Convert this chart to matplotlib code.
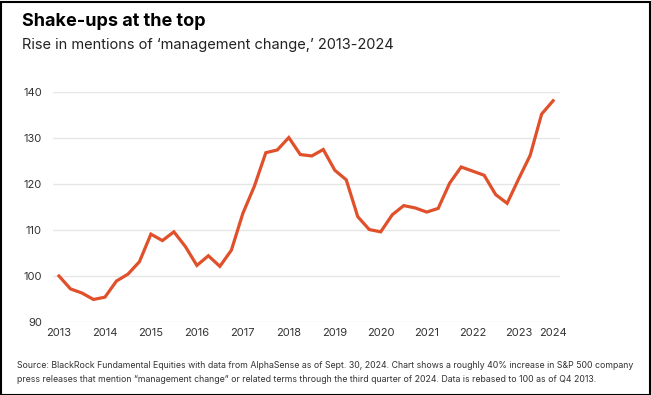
import numpy as np
import matplotlib
matplotlib.use('Agg')
import matplotlib.pyplot as plt
from matplotlib.patches import Rectangle

# quarterly index, Q4 2013 = 100
values = [100.0, 97.2, 96.3, 94.9, 95.4, 98.9, 100.4, 103.1, 109.1, 107.7,
          109.6, 106.4, 102.3, 104.4, 102.1, 105.6, 113.6, 119.5, 126.8, 127.4,
          130.1, 126.4, 126.1, 127.5, 123.0, 120.9, 112.9, 110.1, 109.6, 113.3,
          115.3, 114.8, 113.9, 114.7, 120.2, 123.7, 122.8, 121.9, 117.7, 115.8,
          121.1, 126.2, 135.2, 138.1]
year_labels = ['2013', '2014', '2015', '2016', '2017', '2018', '2019',
               '2020', '2021', '2022', '2023', '2024']
year_pos = [0, 4, 8, 12, 16, 20, 24, 28, 32, 36, 40, 43]
y_ticks = [90, 100, 110, 120, 130, 140]

plt.rcParams['font.family'] = ['Inter', 'DejaVu Sans']

W, H = 651, 395
fig = plt.figure(figsize=(W / 100, H / 100), dpi=100)
fig.patch.set_facecolor('white')

ax = fig.add_axes([53 / W, 1 - 322 / H, (560 - 53) / W, (322 - 92) / H])
x = np.arange(len(values))
ax.plot(x, values, color='#E0502A', lw=2.3, clip_on=False, solid_joinstyle='miter')

ax.set_ylim(90, 140)
ax.set_xlim(-0.52, 43.6)
ax.set_yticks(y_ticks)
ax.set_xticks(year_pos)
ax.set_xticklabels(year_labels)
ax.grid(axis='y', color='#e6e6e6', lw=1)
ax.set_axisbelow(True)
for s in ax.spines.values():
    s.set_visible(False)
ax.tick_params(length=0, labelsize=8, colors='#333333')
ax.tick_params(axis='y', pad=8)
ax.tick_params(axis='x', pad=4)

fig.text(22 / W, 1 - 22 / H, 'Shake-ups at the top', fontsize=13, fontweight='bold',
         va='center', ha='left', color='black')
fig.text(22 / W, 1 - 45 / H, 'Rise in mentions of \u2018management change,\u2019 2013-2024',
         fontsize=10.5, va='center', ha='left', color='#222222')
fig.text(17 / W, 1 - 365 / H,
         'Source: BlackRock Fundamental Equities with data from AlphaSense as of Sept. 30, 2024. '
         'Chart shows a roughly 40% increase in S&P 500 company',
         fontsize=6.3, va='center', ha='left', color='#333333')
fig.text(17 / W, 1 - 379 / H,
         'press releases that mention \u201cmanagement change\u201d or related terms through the '
         'third quarter of 2024. Data is rebased to 100 as of Q4 2013.',
         fontsize=6.3, va='center', ha='left', color='#333333')

fig.patches.append(Rectangle((0.5 / W, 0.5 / H), 1 - 2 / W, 1 - 2 / H,
                             transform=fig.transFigure, fill=False,
                             edgecolor='black', lw=1.5))

fig.savefig('out.png', dpi=100)
